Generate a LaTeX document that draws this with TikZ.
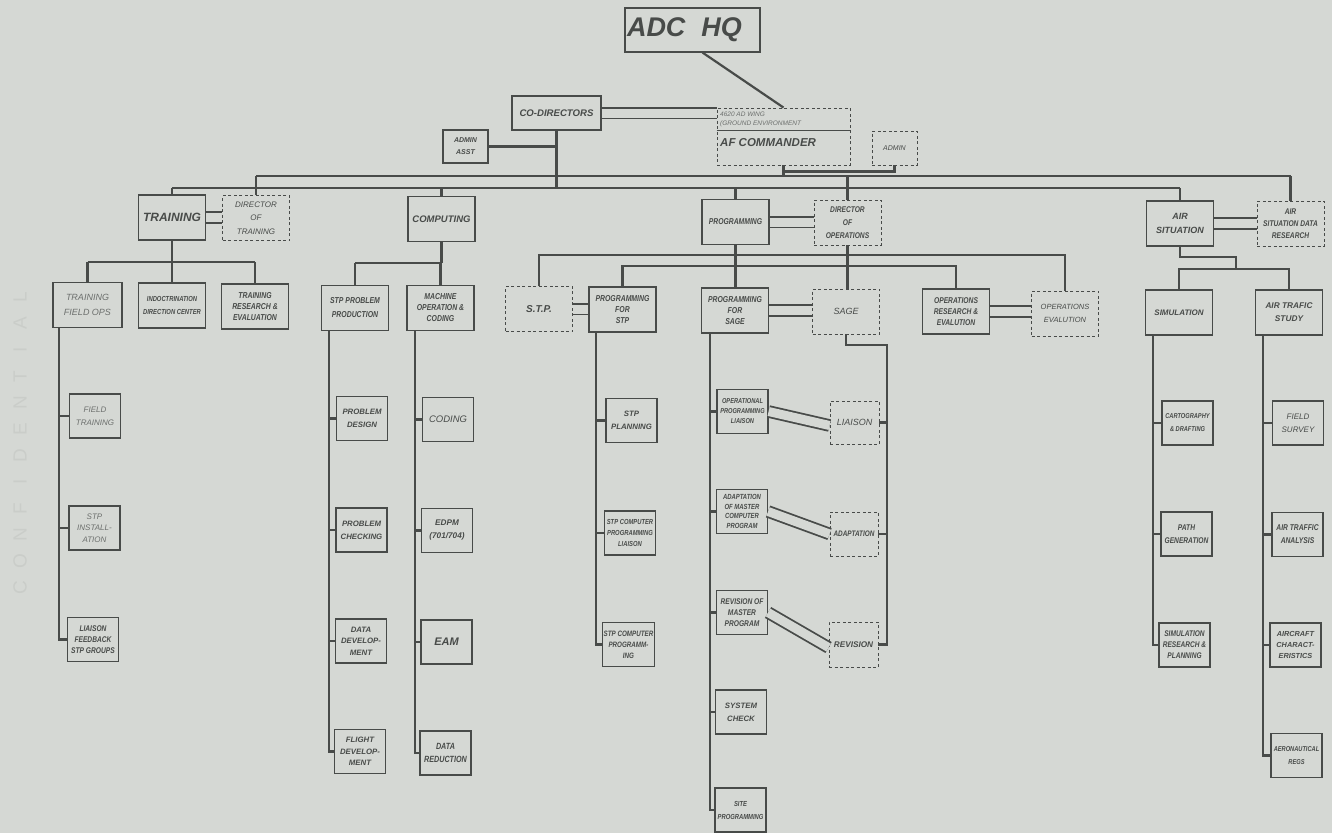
\documentclass[tikz,border=0pt]{standalone}
\usepackage{fontspec}
\newfontfamily\hand{Liberation Sans}
\newfontfamily\handn[FakeStretch=0.8]{Liberation Sans}
\usetikzlibrary{positioning, calc}
\definecolor{paper}{RGB}{213,216,212}
\definecolor{ink}{RGB}{72,75,73}
\definecolor{fade}{RGB}{108,111,109}
\definecolor{ghost}{RGB}{202,205,201}

\tikzset{
  lettering/.style 2 args={font=\hand\bfseries\itshape\fontsize{#1}{#2}\selectfont},
  narrow/.style 2 args={font=\handn\bfseries\itshape\fontsize{#1}{#2}\selectfont},
  plainletter/.style 2 args={font=\hand\itshape\fontsize{#1}{#2}\selectfont},
  unit/.style={draw=ink, line width=1.1pt, fill=paper, text=ink, align=center,
    inner sep=1pt, minimum width=51pt, minimum height=44pt, lettering={7.5}{11}},
  head/.style={unit, minimum width=67pt, minimum height=45pt},
  staff/.style={draw=ink, line width=0.9pt, dash pattern=on 3pt off 2.5pt},
  link/.style={draw=ink, line width=2.2pt},
  pair/.style={draw=ink, line width=1.8pt, double=paper, double distance=9pt},
}

\begin{document}
\begin{tikzpicture}[x=1pt, y=-1pt]
  \useasboundingbox (0,0) rectangle (1332,833);
  \fill[paper] (0,0) rectangle (1332,833);
  % stamp showing through on the left edge
  \foreach \c [count=\i] in {C,O,N,F,I,D,E,N,T,I,A,L}
    \node[rotate=90, text=ghost, font=\hand\fontsize{19}{19}\selectfont] (stamp\i) at (20,614-26.4*\i) {\c};

  % headquarters and directors
  \node[unit, minimum width=135pt, text width=131pt, align=left, lettering={27}{30}] (hq) at (692.5,30) {ADC\hspace{16pt}HQ};
  \node[unit, minimum width=89pt, minimum height=34pt, lettering={9.6}{12}] (codir) at (556.5,113) {CO-DIRECTORS};
  \node[unit, staff, minimum width=133pt, minimum height=57pt] (wing) at (783.5,136.5) {};
  \draw[ink, line width=0.9pt] (wing.west |- 0,130) -- (wing.east |- 0,130);
  \node[anchor=west, align=left, text=fade, inner sep=0pt, plainletter={6.5}{9}] (wingname) at (720,119) {4620 AD WING\\(GROUND ENVIRONMENT};
  \node[anchor=west, text=ink, inner sep=0pt, lettering={11.5}{14}] (afc) at (720,143) {AF COMMANDER};
  \node[unit, staff, minimum width=45pt, minimum height=34pt, plainletter={7}{9}] (admin) at (894.5,148) {ADMIN};
  \node[unit, minimum width=45pt, minimum height=33pt, lettering={7}{12}] (asst) at (465.5,146.5) {ADMIN\\ASST};

  % divisions
  \node[head, lettering={12}{14}] (train) at (172,217.5) {TRAINING};
  \node[head, staff, plainletter={8}{13.5}] (dtrain) at (256,218) {DIRECTOR\\OF\\TRAINING};
  \node[head, lettering={9.5}{12}] (comp) at (441.5,219) {COMPUTING};
  \node[head, narrow={8.5}{9}] (prog) at (735.5,222) {PROGRAMMING};
  \node[head, staff, narrow={8.3}{13}] (dops) at (847.5,222.5) {DIRECTOR\\OF\\OPERATIONS};
  \node[head, lettering={9}{14}] (air) at (1180,223.5) {AIR\\SITUATION};
  \node[head, staff, narrow={8.3}{12}] (asdr) at (1290.5,223.5) {AIR\\SITUATION DATA\\RESEARCH};

  % branches
  \node[head, text=fade, minimum width=69pt, plainletter={9}{15}] (tfo) at (87.5,305) {TRAINING\\FIELD OPS};
  \node[head, narrow={7.3}{13}] (indoc) at (172,305.5) {INDOCTRINATION\\DIRECTION CENTER};
  \node[head, narrow={8.6}{11}] (tre) at (255,306.5) {TRAINING\\RESEARCH \&\\EVALUATION};
  \node[head, narrow={8.6}{14}] (spp) at (355,308) {STP PROBLEM\\PRODUCTION};
  \node[head, narrow={8.6}{11}] (moc) at (440.5,308) {MACHINE\\OPERATION \&\\CODING};
  \node[head, staff, lettering={10}{12}] (stp) at (539,309) {S.T.P.};
  \node[head, narrow={8.6}{11}] (pstp) at (622.5,309.5) {PROGRAMMING\\FOR\\STP};
  \node[head, narrow={8.6}{11}] (psage) at (735,310.5) {PROGRAMMING\\FOR\\SAGE};
  \node[head, staff, plainletter={9}{11}] (sage) at (846,311.5) {SAGE};
  \node[head, narrow={8.4}{11}] (ore) at (956,311.5) {OPERATIONS\\RESEARCH \&\\EVALUTION};
  \node[head, staff, plainletter={7.5}{13}] (oev) at (1065,313.5) {OPERATIONS\\EVALUTION};
  \node[head, lettering={8}{11}] (sim) at (1179,312.5) {SIMULATION};
  \node[head, lettering={8.3}{13}] (ats) at (1289,312.5) {AIR TRAFIC\\STUDY};

  % sections
  \node[unit, text=fade, plainletter={8}{13}] (ftr) at (95,416) {FIELD\\TRAINING};
  \node[unit, text=fade, plainletter={8}{11.5}] (stpi) at (94.5,528) {STP\\INSTALL-\\ATION};
  \node[unit, narrow={8.3}{11}] (lfb) at (93,639.5) {LIAISON\\FEEDBACK\\STP GROUPS};
  \node[unit, lettering={7.8}{13}] (pdes) at (362,418.5) {PROBLEM\\DESIGN};
  \node[unit, lettering={7.8}{13}] (pchk) at (361.5,530) {PROBLEM\\CHECKING};
  \node[unit, lettering={7.8}{11.5}] (ddev) at (361,641) {DATA\\DEVELOP-\\MENT};
  \node[unit, lettering={7.8}{11.5}] (fdev) at (360,751.5) {FLIGHT\\DEVELOP-\\MENT};
  \node[unit, plainletter={9.5}{11}] (cod) at (448,419.5) {CODING};
  \node[unit, lettering={8.2}{13}] (edpm) at (447,530.5) {EDPM\\(701/704)};
  \node[unit, lettering={11}{12}] (eam) at (446.5,642) {EAM};
  \node[unit, narrow={9}{13}] (dred) at (445.5,753) {DATA\\REDUCTION};
  \node[unit, lettering={7.8}{13}] (stpp) at (631.5,420.5) {STP\\PLANNING};
  \node[unit, narrow={7.3}{11}] (stpcl) at (630,533) {STP COMPUTER\\PROGRAMMING\\LIAISON};
  \node[unit, narrow={7.8}{11}] (stpcp) at (628.5,644.5) {STP COMPUTER\\PROGRAMM-\\ING};
  \node[unit, narrow={7.1}{10}] (opl) at (742.5,411.5) {OPERATIONAL\\PROGRAMMING\\LIAISON};
  \node[unit, narrow={7.4}{9.5}] (amcp) at (742,511.5) {ADAPTATION\\OF MASTER\\COMPUTER\\PROGRAM};
  \node[unit, narrow={8.3}{11}] (rmp) at (742,612.5) {REVISION OF\\MASTER\\PROGRAM};
  \node[unit, lettering={7.8}{13}] (sysc) at (741,712) {SYSTEM\\CHECK};
  \node[unit, narrow={7.3}{13}] (site) at (740.5,810) {SITE\\PROGRAMMING};
  \node[unit, staff, minimum width=49pt, minimum height=43pt, plainletter={9}{11}] (liai) at (854.5,422.5) {LIAISON};
  \node[unit, staff, minimum width=48pt, narrow={8}{11}] (adapt) at (854,534) {ADAPTATION};
  \node[unit, staff, minimum width=49pt, minimum height=45pt, lettering={8.2}{11}] (rev) at (853.5,644.5) {REVISION};
  \node[unit, narrow={7.1}{13}] (cart) at (1187.5,423) {CARTOGRAPHY\\\& DRAFTING};
  \node[unit, narrow={8.3}{13}] (pgen) at (1186.5,534) {PATH\\GENERATION};
  \node[unit, narrow={8.2}{11}] (srp) at (1184.5,645) {SIMULATION\\RESEARCH \&\\PLANNING};
  \node[unit, plainletter={8}{13}] (fsur) at (1298,423) {FIELD\\SURVEY};
  \node[unit, narrow={8.4}{13}] (ata) at (1297.5,534.5) {AIR TRAFFIC\\ANALYSIS};
  \node[unit, lettering={7.3}{11}] (acc) at (1295.5,645) {AIRCRAFT\\CHARACT-\\ERISTICS};
  \node[unit, narrow={7.1}{13}] (areg) at (1296.5,755.5) {AERONAUTICAL\\REGS};

  % bus levels and column lines
  \coordinate (busA) at (0,176);
  \coordinate (busB) at (0,188);
  \coordinate (trb) at (0,262);
  \coordinate (cpb) at (0,263);
  \coordinate (lnA) at (0,255);
  \coordinate (lnB) at (0,266);
  \coordinate (aj) at (1236,257);
  \coordinate (asb) at (0,269);
  \coordinate (sc) at (887,345);
  \coordinate (k1) at (59,0);
  \coordinate (k2) at (329,0);
  \coordinate (k3) at (415,0);
  \coordinate (k4) at (596,0);
  \coordinate (k5) at (710,0);
  \coordinate (k7) at (1153,0);
  \coordinate (k8) at (1263,0);

  % top
  \draw[link] ([xshift=10pt]hq.south) -- (wing.north);
  \draw[pair] (codir.east) -- (codir.east -| wing.west);
  \draw[link] (asst.east) -- (asst.east -| codir.south);
  \draw[link] (codir.south) -- (codir.south |- busB);
  \draw[link] (wing.south) -- (wing.south |- busA);
  \draw[link] (admin.south) -- ++(0,6) -| (wing.south);
  \draw[link] (dtrain.north |- busA) -- (asdr.north |- busA);
  \draw[link] (train.north |- busB) -- (air.north |- busB);
  \foreach \n in {dtrain, dops, asdr} \draw[link] (\n.north) -- (\n.north |- busA);
  \foreach \n in {train, comp, prog, air} \draw[link] (\n.north) -- (\n.north |- busB);
  \draw[pair] (train.east) -- (train.east -| dtrain.west);
  \draw[pair] (prog.east) -- (prog.east -| dops.west);
  \draw[pair] (air.east) -- (air.east -| asdr.west);

  % training
  \draw[link] (train.south) -- (train.south |- trb);
  \draw[link] (tfo.north |- trb) -- (tre.north |- trb);
  \foreach \n in {tfo, indoc, tre} \draw[link] (\n.north) -- (\n.north |- trb);
  \draw[link] (tfo.south -| k1) |- (lfb.west);
  \foreach \n in {ftr, stpi} \draw[link] (\n.west) -- (\n.west -| k1);

  % computing
  \draw[link] (comp.south) -- (comp.south |- cpb);
  \draw[link] (spp.north |- cpb) -- (moc.north |- cpb);
  \foreach \n in {spp, moc} \draw[link] (\n.north) -- (\n.north |- cpb);
  \draw[link] (spp.south -| k2) |- (fdev.west);
  \foreach \n in {pdes, pchk, ddev} \draw[link] (\n.west) -- (\n.west -| k2);
  \draw[link] (moc.south -| k3) |- (dred.west);
  \foreach \n in {cod, edpm, eam} \draw[link] (\n.west) -- (\n.west -| k3);

  % programming
  \draw[link] (prog.south) -- (prog.south |- psage.north);
  \draw[link] (dops.south) -- (dops.south |- sage.north);
  \draw[link] (stp.north) |- (oev.north |- lnA) -- (oev.north);
  \draw[link] (pstp.north) |- (ore.north |- lnB) -- (ore.north);
  \draw[pair] (stp.east) -- (stp.east -| pstp.west);
  \draw[pair] (psage.east) -- (psage.east -| sage.west);
  \draw[pair] (ore.east) -- (ore.east -| oev.west);
  \draw[link] (pstp.south -| k4) |- (stpcp.west);
  \foreach \n in {stpp, stpcl} \draw[link] (\n.west) -- (\n.west -| k4);
  \draw[link] (psage.south -| k5) |- (site.west);
  \foreach \n in {opl, amcp, rmp, sysc} \draw[link] (\n.west) -- (\n.west -| k5);
  \draw[link] (sage.south) |- (sc) |- (rev.east);
  \foreach \n in {liai, adapt} \draw[link] (\n.east) -- (\n.east -| sc);
  \draw[pair] (opl.east) -- ([yshift=-3pt]liai.west);
  \draw[pair] (amcp.east) -- (adapt.west);
  \draw[pair] (rmp.east) -- ([yshift=-3pt]rev.west);

  % air situation
  \draw[link] (air.south) |- (aj) -- (aj |- asb);
  \draw[link] (sim.north) |- (ats.north |- asb) -- (ats.north);
  \draw[link] (sim.south -| k7) |- (srp.west);
  \foreach \n in {cart, pgen} \draw[link] (\n.west) -- (\n.west -| k7);
  \draw[link] (ats.south -| k8) |- (areg.west);
  \foreach \n in {fsur, ata, acc} \draw[link] (\n.west) -- (\n.west -| k8);
\end{tikzpicture}
\end{document}
